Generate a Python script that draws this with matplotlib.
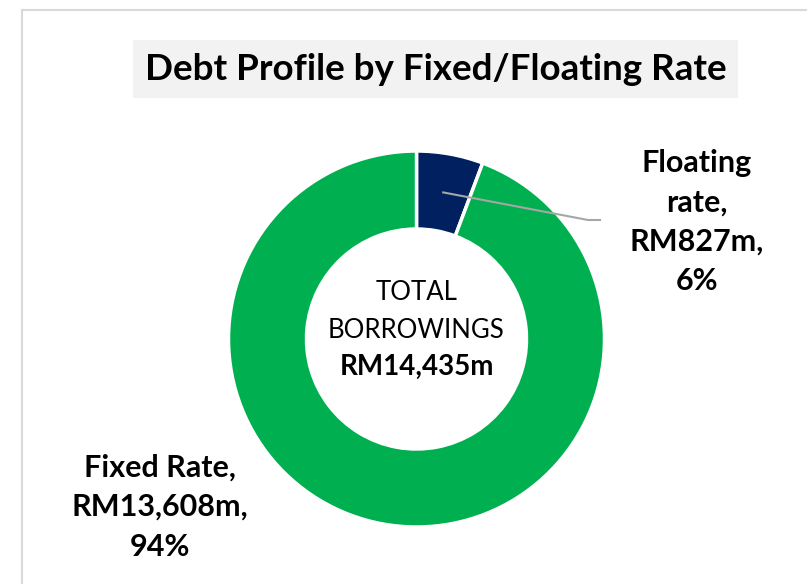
import numpy as np
import matplotlib.pyplot as plt
from matplotlib.patches import Rectangle

labels = ['Floating\nrate,\nRM827m,\n6%', 'Fixed Rate,\nRM13,608m,\n94%']
values = [827, 13608]
colors = ['#002060', '#00B050']
title = 'Debt Profile by Fixed/Floating Rate'
centre_text = ['TOTAL', 'BORROWINGS', 'RM14,435m']

plt.rcParams['font.family'] = ['Lato', 'DejaVu Sans']

W, H = 807, 584
fig = plt.figure(figsize=(W / 100, H / 100), dpi=100)
ax = fig.add_axes([0, 0, 1, 1])
ax.set_xlim(0, W)
ax.set_ylim(0, H)
ax.set_aspect('equal')
ax.axis('off')

# chart border (only top/left visible in the crop)
ax.plot([22, W], [H - 10, H - 10], color='#D9D9D9', lw=1.5)
ax.plot([22, 22], [H - 10, 0], color='#D9D9D9', lw=1.5)

# title box
ax.add_patch(Rectangle((133, H - 98), 605, 58, facecolor='#F2F2F2', edgecolor='none'))
ax.text(435.5, H - 70, title, ha='center', va='center', fontsize=26.5,
        fontweight='bold', color='#000000')

# donut
cx, cy, R, ring = 416.5, H - 339, 188, 78
wedges, _ = ax.pie(values, colors=colors, startangle=90, counterclock=False,
                   center=(cx, cy), radius=R,
                   wedgeprops=dict(width=ring, edgecolor='white', linewidth=2.5))
ax.set_xlim(0, W)
ax.set_ylim(0, H)

# leader line for the floating slice
frac = values[0] / sum(values)
ang = np.deg2rad(90 - frac * 360 / 2)
r_mid = R - ring / 2
px, py = cx + r_mid * np.cos(ang), cy + r_mid * np.sin(ang)
ax.plot([px, 588, 600], [py, H - 220, H - 220], color='#A6A6A6', lw=1.5)

ax.text(697, H - 222, labels[0], ha='center', va='center', fontsize=22,
        fontweight='bold', linespacing=1.5)
ax.text(160, H - 507, labels[1], ha='center', va='center', fontsize=22,
        fontweight='bold', linespacing=1.5)

# centre text
ax.text(cx, H - 292, centre_text[0], ha='center', va='center', fontsize=18.5)
ax.text(cx, H - 330, centre_text[1], ha='center', va='center', fontsize=18.5)
ax.text(cx, H - 367, centre_text[2], ha='center', va='center', fontsize=20,
        fontweight='bold')

fig.savefig('out.png', dpi=100, facecolor='white')
